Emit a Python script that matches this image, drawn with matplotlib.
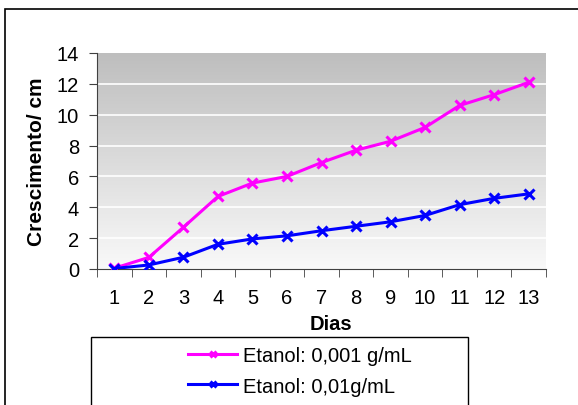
import matplotlib
matplotlib.use("Agg")
import matplotlib.pyplot as plt
import numpy as np
from matplotlib.patches import Rectangle

plt.rcParams["font.family"] = ["Liberation Sans", "DejaVu Sans"]

dias = list(range(1, 14))
etanol_001 = [0.05, 0.75, 2.7, 4.7, 5.57, 6.0, 6.9, 7.7, 8.28, 9.18, 10.6, 11.3, 12.1]
etanol_01 = [0.03, 0.26, 0.76, 1.6, 1.95, 2.15, 2.48, 2.77, 3.06, 3.47, 4.17, 4.58, 4.87]
yticks = [0, 2, 4, 6, 8, 10, 12, 14]

W, H = 578, 406
fig = plt.figure(figsize=(W / 100, H / 100), dpi=100)
ax = fig.add_axes([97 / W, 1 - 270 / H, 449 / W, 216 / H])

# gradient background (darker at top)
grad = np.linspace(0, 1, 256).reshape(-1, 1)
ax.imshow(grad, extent=[0.5, 13.5, 0, 14], aspect="auto", origin="upper",
          cmap=matplotlib.colors.LinearSegmentedColormap.from_list("g", ["#bebebe", "#f9f9f9"]),
          zorder=0)
for v in yticks[1:-1]:
    ax.axhline(v, color="white", lw=1.2, zorder=1)

ax.plot(dias, etanol_001, color="#ff00ff", lw=2.2, marker="x", ms=7, mew=2.2, zorder=3,
        label="Etanol: 0,001 g/mL")
ax.plot(dias, etanol_01, color="#0000ff", lw=2.2, marker="x", ms=7, mew=2.2, zorder=3,
        label="Etanol: 0,01g/mL")

ax.set_xlim(0.5, 13.5)
ax.set_ylim(0, 14)
ax.set_yticks(yticks)
ax.set_xticks(dias)
ax.set_xticks(np.arange(0.5, 14, 1), minor=True)
ax.tick_params(axis="x", which="major", length=0, labelsize=14.5, pad=14)
ax.tick_params(axis="x", which="minor", length=6, color="#404040", direction="out")
ax.tick_params(axis="y", length=6, color="#404040", labelsize=14.5, pad=7)
for s in ["top", "right"]:
    ax.spines[s].set_visible(False)
for s in ["left", "bottom"]:
    ax.spines[s].set_color("#404040")

fig.text(37 / W, 1 - 162 / H, "Crescimento/ cm", rotation=90, ha="center", va="center",
         fontsize=15, fontweight="bold")
fig.text(331 / W, 1 - 325 / H, "Dias", ha="center", va="center", fontsize=14.5,
         fontweight="bold")

# outer chart border
fig.patches.append(Rectangle((5 / W, -0.1), 1.2, 1.1 - 10 / H, transform=fig.transFigure,
                             fill=False, ec="black", lw=1.2))
# legend box
fig.patches.append(Rectangle((91 / W, -0.1), (468 - 91) / W, 0.1 + 1 - 338 / H,
                             transform=fig.transFigure, fill=False, ec="black", lw=1))
h, l = ax.get_legend_handles_labels()
fig.legend(h, l, loc="center left", bbox_to_anchor=(188 / W, 1 - 372 / H), frameon=False,
           fontsize=14.5, handlelength=2.45, handletextpad=0.3, labelspacing=0.55,
           borderpad=0, borderaxespad=0, markerscale=0.7)

fig.savefig("out.png", dpi=100)
